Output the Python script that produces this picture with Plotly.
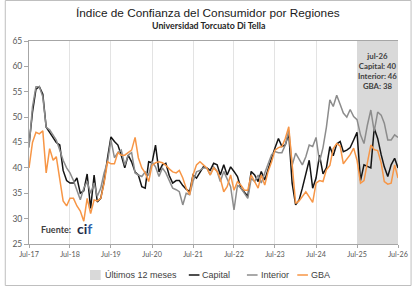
import pandas as pd
import plotly.graph_objects as go

# ---- data (monthly, Jul-2017 .. Jul-2026) ----
start_month = "2017-07-01"
capital = [44.5, 51, 55.5, 56, 54.5, 48, 47, 46, 45, 44.5, 39.5, 37.5, 37, 37, 38, 35, 35.5, 38.8, 32, 38.6,
           33.3, 34, 37.3, 42, 46.1, 45.2, 44.5, 42.5, 40, 42.5, 41.2, 39.2, 38.6, 36.3, 36, 41.2, 41, 44.5, 39.2, 40.6,
           40.9, 38.5, 37, 37.5, 37.5, 36.5, 35.8, 35.3, 38.6, 38, 39.2, 40.2, 40, 39.5, 40.9, 40.6, 38.6, 40.6, 38.6, 40.2,
           39.3, 38.3, 36, 35.3, 34.4, 39.3, 38.6, 37.3, 39.3, 37.6, 39.9, 41.9, 43.9, 45.8, 44.2, 44.5, 46.8, 37, 32.7, 33.7,
           36, 38.6, 41.5, 36, 38, 42.5, 38.8, 40, 44.2, 42.4, 44.7, 45.2, 43.2, 43.5, 44, 45.5, 47, 37.5, 40.6, 40.3,
           40, 47.8, 45.8, 42.6, 40.2, 38.3, 40.6, 41.9, 40]
interior = [44, 52, 56, 56, 54, 48, 47.5, 46.5, 45.5, 43.5, 41.5, 40, 39, 37.5, 35.5, 33.7, 36, 37.3, 35, 37,
            34.4, 36, 39, 41.2, 45.5, 42, 43, 43.5, 40.5, 42.5, 43, 39, 38.6, 38.3, 39.2, 38.6, 41.2, 40.2, 38.3, 40,
            39, 37.5, 36, 35.7, 35.3, 32.7, 35, 34.7, 37.3, 39.2, 39.5, 40, 40, 38.6, 40.2, 39.3, 37.3, 39.3, 37.9, 36.3,
            31.7, 36.6, 36, 35, 34, 37.9, 37.3, 38.6, 37, 39, 40.6, 42.6, 43.2, 43, 43, 44.5, 47.4, 40.5, 42.9, 41.6,
            40.6, 42.2, 44.5, 44.2, 46, 41.2, 44, 48, 53.4, 52.1, 54.3, 52.5, 50.8, 50, 51.5, 50.1, 49.5, 46.5, 44.8, 48.4,
            51.4, 47.2, 51, 50.4, 48.8, 45.5, 45.5, 46.5, 46]
gba = [40, 45, 47, 46.7, 47.3, 39, 43.8, 41.5, 42.2, 38, 33.5, 32.5, 34, 34, 32.5, 31.5, 29.5, 34, 31, 33.7,
       33.5, 34, 37, 41.2, 40.8, 40.8, 43, 42.5, 42.5, 43, 43.5, 46, 42, 40, 39, 37.3, 40.5, 41, 41.2, 41,
       40.5, 39.8, 39.2, 39, 39.5, 38, 36, 34.7, 38.6, 40.6, 41.2, 40.6, 40, 38.6, 40, 39.3, 37.9, 35.3, 36.3, 38.6,
       35.6, 37.3, 36.6, 35.6, 35.6, 38.6, 37.3, 36, 38.6, 36.6, 39.3, 41.2, 43.5, 44, 44.2, 45.8, 48.1, 40, 33, 33.5,
       34.5, 35.3, 34.3, 33.2, 37, 37.5, 37.3, 39.6, 40.5, 43.8, 44.8, 44.3, 40.8, 41.8, 42.6, 43.9, 41.5, 37, 37.5, 41,
       44.5, 43.6, 43.4, 41, 37.3, 36.8, 37, 40.6, 38]
y_ticks = [25, 30, 35, 40, 45, 50, 55, 60, 65]
x_tick_labels = ["Jul-17", "Jul-18", "Jul-19", "Jul-20", "Jul-21", "Jul-22", "Jul-23", "Jul-24", "Jul-25", "Jul-26"]
last_label = "jul-26"
series_names = ["Capital", "Interior", "GBA"]
shade_name = "Últimos 12 meses"

dates = pd.date_range(start_month, periods=len(capital), freq="MS")
tick_dates = dates[::12]

W, H = 420, 286
ml, mr, mt, mb = 25, 14, 41, 42
pw, ph = W - ml - mr, H - mt - mb
ymin, ymax = y_ticks[0], y_ticks[-1]


def px(x):
    return (x - ml) / pw


def py(y):
    return (H - mb - y) / ph


colors = {"Capital": "#141414", "Interior": "#8c8c8c", "GBA": "#f79646"}
shade_color = "#d9d9d9"

fig = go.Figure()

# shaded "last 12 months" region
s0, s1 = dates[-13], dates[-1]
fig.add_trace(go.Scatter(
    x=[s0, s1, s1, s0, s0], y=[ymin, ymin, ymax, ymax, ymin],
    fill="toself", fillcolor=shade_color, line=dict(width=0), mode="lines",
    name=shade_name, hoverinfo="skip", showlegend=False))

for name, vals in zip(series_names, [capital, interior, gba]):
    fig.add_trace(go.Scatter(x=dates, y=vals, mode="lines", name=name, showlegend=False,
                             line=dict(color=colors[name], width=1.5)))

fig.update_xaxes(range=[dates[0], dates[-1]], tickvals=list(tick_dates), ticktext=x_tick_labels,
                 showgrid=True, gridcolor="#e3e3e3", gridwidth=1,
                 showline=True, linecolor="#a6a6a6", linewidth=1, mirror=True,
                 ticks="outside", ticklen=3, tickcolor="#a6a6a6",
                 tickfont=dict(family="Lato", size=7.2, color="#595959"), zeroline=False)
fig.update_yaxes(range=[ymin, ymax], tickvals=y_ticks, showgrid=False,
                 showline=True, linecolor="#a6a6a6", linewidth=1,
                 ticks="outside", ticklen=4, tickcolor="#a6a6a6",
                 tickfont=dict(family="Lato", size=8.5, color="#595959"), zeroline=False)

annotations = [
    dict(text="Índice de Confianza del Consumidor por Regiones", xref="paper", yref="paper",
         x=px(210), y=py(13), xanchor="center", yanchor="middle", showarrow=False,
         font=dict(family="Liberation Sans", size=11.8, color="#1a1a1a")),
    dict(text="<b>Universidad Torcuato Di Tella</b>", xref="paper", yref="paper",
         x=px(210), y=py(25), xanchor="center", yanchor="middle", showarrow=False,
         font=dict(family="Lato", size=8.8, color="#262626")),
    dict(text=f"<b>{last_label}<br>Capital: {round(capital[-1])}<br>Interior: {round(interior[-1])}<br>GBA: {round(gba[-1])}</b>",
         xref="x", yref="paper", x=dates[-7], y=py(49), xanchor="center", yanchor="top",
         showarrow=False, align="center",
         font=dict(family="Lato", size=7.8, color="#404040")),
    dict(text="<b>Fuente:</b>", xref="paper", yref="paper", x=px(35), y=py(229),
         xanchor="left", yanchor="middle", showarrow=False,
         font=dict(family="Lato", size=9, color="#404040")),
    dict(text="<b><span style='color:#1f2a44'>ci</span><span style='color:#2e5fa8'>f</span></b>",
         xref="paper", yref="paper", x=px(73), y=py(228), xanchor="left", yanchor="middle",
         showarrow=False, font=dict(family="Lato", size=14, color="#1f2a44")),
]

shapes = [dict(type="rect", xref="paper", yref="paper",
               x0=px(0.5), x1=px(W - 0.5), y0=py(H - 0.5), y1=py(0.5),
               line=dict(color="#bfbfbf", width=1), fillcolor="rgba(0,0,0,0)", layer="above")]

# manual legend (keys + labels)
leg_y = 275
leg_font = dict(family="Liberation Sans", size=9, color="#404040")
shapes.append(dict(type="rect", xref="paper", yref="paper", x0=px(88), x1=px(99), y0=py(280), y1=py(270),
                   line=dict(width=0), fillcolor=shade_color))
annotations.append(dict(text=shade_name, xref="paper", yref="paper", x=px(101), y=py(leg_y),
                        xanchor="left", yanchor="middle", showarrow=False, font=leg_font))
for name, x0 in zip(series_names, [190, 250, 302]):
    shapes.append(dict(type="line", xref="paper", yref="paper", x0=px(x0), x1=px(x0 + 11),
                       y0=py(leg_y), y1=py(leg_y), line=dict(color=colors[name], width=1.5)))
    annotations.append(dict(text=name, xref="paper", yref="paper", x=px(x0 + 12), y=py(leg_y),
                            xanchor="left", yanchor="middle", showarrow=False, font=leg_font))

fig.update_layout(
    width=W, height=H, margin=dict(l=ml, r=mr, t=mt, b=mb),
    paper_bgcolor="white", plot_bgcolor="white",
    showlegend=False,
    annotations=annotations, shapes=shapes,
)

fig.write_html("out.html")
